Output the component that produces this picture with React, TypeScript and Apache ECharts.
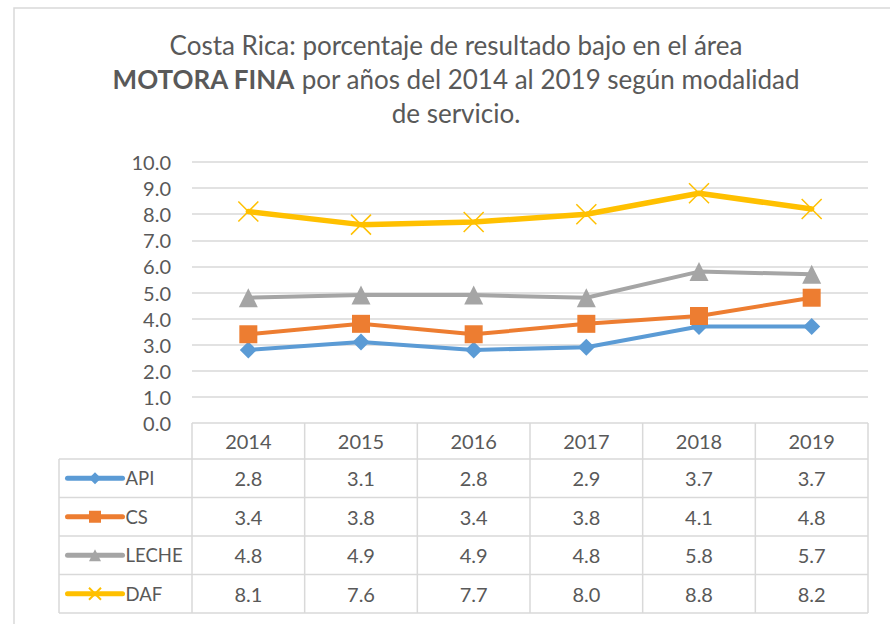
import React, { useEffect, useRef } from 'react';
import * as echarts from 'echarts';

const years = ['2014', '2015', '2016', '2017', '2018', '2019'];
const api = [2.8, 3.1, 2.8, 2.9, 3.7, 3.7];
const cs = [3.4, 3.8, 3.4, 3.8, 4.1, 4.8];
const leche = [4.8, 4.9, 4.9, 4.8, 5.8, 5.7];
const daf = [8.1, 7.6, 7.7, 8.0, 8.8, 8.2];
const titleLines = [
  'Costa Rica: porcentaje de resultado bajo en el área',
  '{b|MOTORA FINA} por años del 2014 al 2019 según modalidad',
  'de servicio.',
];

const W = 890;
const H = 624;
const FONT = 'Lato, "Open Sans", sans-serif';
const TXT = '#595959';
const LINE_C = '#D9D9D9';
const PLOT = { left: 192, right: 868, top: 162, bottom: 423 };
const TABLE_LEFT = 59;
const HEADER_H = 36;
const ROW_H = 38.5;
const TITLE_SIZE = 26;
const BODY_SIZE = 20;
const LEGEND_SIZE = 18.5;

const defs = [
  { name: 'API', data: api, color: '#5B9BD5', symbol: 'diamond', size: 17, width: 4, hollow: false },
  { name: 'CS', data: cs, color: '#ED7D31', symbol: 'rect', size: 18, width: 4, hollow: false },
  { name: 'LECHE', data: leche, color: '#A5A5A5', symbol: 'triangle', size: 19, width: 4, hollow: false },
  { name: 'DAF', data: daf, color: '#FFC000', symbol: 'path://M0,0L10,10M10,0L0,10', size: 20, width: 5.5, hollow: true },
];

const rowCenter = (i: number) => PLOT.bottom + HEADER_H + ROW_H * (i + 0.5);

export default function App() {
  const ref = useRef<HTMLDivElement>(null);
  useEffect(() => {
    if (!ref.current) return;
    const chart = echarts.init(ref.current, undefined, { renderer: 'svg' });
    const option: any = {
      animation: false,
      textStyle: { fontFamily: FONT },
      grid: { left: PLOT.left, right: W - PLOT.right, top: PLOT.top, bottom: H - PLOT.bottom },
      xAxis: {
        type: 'category',
        data: years,
        boundaryGap: true,
        axisLine: { show: false },
        axisTick: { show: false },
        axisLabel: { show: false },
      },
      yAxis: {
        type: 'value',
        min: 0,
        max: 10,
        interval: 1,
        axisLabel: { formatter: (v: number) => v.toFixed(1), color: TXT, fontSize: BODY_SIZE, margin: 21, fontFamily: FONT },
        splitLine: { lineStyle: { color: LINE_C, width: 1.5 } },
        axisLine: { show: false },
        axisTick: { show: false },
      },
      legend: defs.map((d, i) => ({
        data: [d.name],
        left: 65,
        top: rowCenter(i) - 10,
        padding: 0,
        itemWidth: 55,
        itemHeight: 15,
        itemGap: 0,
        selectedMode: false,
        lineStyle: { width: 5, cap: 'round' },
        textStyle: { color: TXT, fontSize: LEGEND_SIZE, fontFamily: FONT, lineHeight: 20, padding: [0, 0, 0, -2] },
      })),
      series: defs.map((d, i) => ({
        type: 'line',
        name: d.name,
        data: d.data,
        symbol: d.symbol,
        symbolSize: d.size,
        z: 2 + i,
        lineStyle: { color: d.color, width: d.width, cap: 'round', join: 'round' },
        itemStyle: d.hollow
          ? { color: 'none', borderColor: d.color, borderWidth: 1.5 }
          : { color: d.color, borderWidth: 0 },
      })),
    };
    chart.setOption(option);

    const cx = years.map((_, i) => chart.convertToPixel({ xAxisIndex: 0 }, i) as number);
    const colW = cx[1] - cx[0];
    const yTop = chart.convertToPixel({ yAxisIndex: 0 }, 0) as number;
    const gLeft = cx[0] - colW / 2;
    const gRight = cx[cx.length - 1] + colW / 2;
    const yHead = yTop + HEADER_H;
    const yBottom = yHead + ROW_H * defs.length;
    const els: any[] = [];
    const line = (x1: number, y1: number, x2: number, y2: number) =>
      els.push({ type: 'line', silent: true, shape: { x1, y1, x2, y2 }, style: { stroke: LINE_C, lineWidth: 1.5 } });
    const text = (x: number, y: number, t: string) =>
      els.push({
        type: 'text',
        silent: true,
        x,
        y,
        style: { text: t, fill: TXT, fontSize: BODY_SIZE, fontFamily: FONT, align: 'center', verticalAlign: 'middle' },
      });
    // outer border
    els.push({ type: 'rect', silent: true, shape: { x: 14, y: 8, width: 900, height: 700 }, style: { fill: 'none', stroke: LINE_C, lineWidth: 1.5 } });
    // title
    els.push({
      type: 'text',
      silent: true,
      x: 456,
      y: 28,
      style: {
        text: titleLines.join('\n'),
        fill: TXT,
        fontSize: TITLE_SIZE,
        fontFamily: FONT,
        lineHeight: 34,
        align: 'center',
        verticalAlign: 'top',
        rich: { b: { fontWeight: 'bold', fontSize: TITLE_SIZE, fontFamily: FONT, fill: TXT, lineHeight: 34 } },
      },
    });
    // table grid
    for (let r = 0; r <= defs.length; r++) line(TABLE_LEFT, yHead + ROW_H * r, gRight, yHead + ROW_H * r);
    line(TABLE_LEFT, yHead, TABLE_LEFT, yBottom);
    for (let c = 0; c <= years.length; c++) line(gLeft + colW * c, yTop, gLeft + colW * c, yBottom);
    years.forEach((yr, c) => text(cx[c], yTop + HEADER_H / 2, yr));
    defs.forEach((d, r) =>
      d.data.forEach((v, c) => text(cx[c], yHead + ROW_H * (r + 0.5), v.toFixed(1)))
    );
    chart.setOption({ graphic: { elements: els } });
    return () => chart.dispose();
  }, []);
  return <div ref={ref} style={{ position: 'fixed', left: 0, top: 0, width: W, height: H, background: '#fff' }} />;
}
